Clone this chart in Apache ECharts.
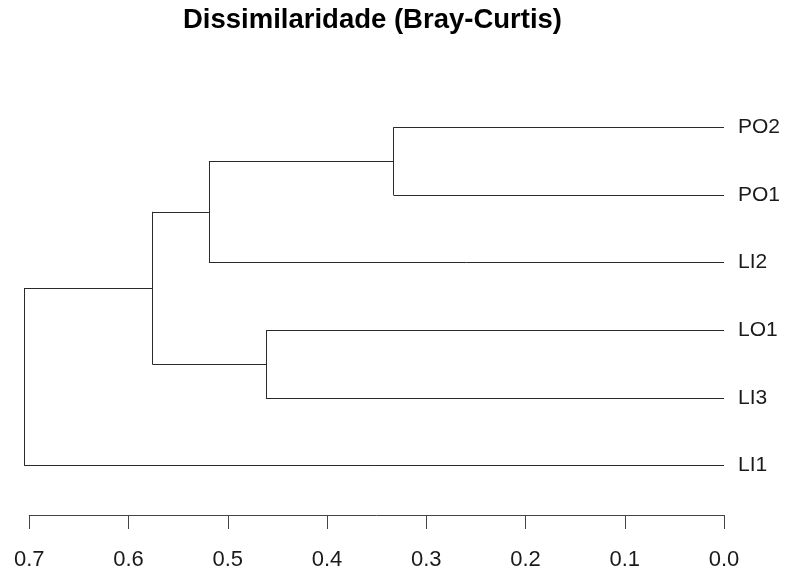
<!DOCTYPE html>
<html>
<head>
<meta charset="utf-8">
<style>
  html, body { margin: 0; padding: 0; background: #fff; }
  #chart { width: 785px; height: 574px; }
</style>
<script src="https://cdn.jsdelivr.net/npm/echarts@6/dist/echarts.min.js"></script>
</head>
<body>
<div id="chart"></div>
<script>
// leaves from top to bottom, as drawn
const leaves = ['PO2', 'PO1', 'LI2', 'LO1', 'LI3', 'LI1']
// R-style merge table: negative = leaf (1-based index in leaves), positive = earlier merge
const merges = [[-1, -2], [-4, -5], [1, -3], [3, 2], [4, -6]]
const heights = [0.333, 0.4615, 0.519, 0.576, 0.705]
const tickValues = [0, 0.1, 0.2, 0.3, 0.4, 0.5, 0.6, 0.7]

// work out where every node sits, then turn the tree into segments
const nodeY = []
const childPos = (id) => id < 0
  ? { x: 0, y: -id - 1 }
  : { x: heights[id - 1], y: nodeY[id - 1] }

const segments = []
merges.forEach(([a, b], i) => {
  const h = heights[i]
  const pa = childPos(a)
  const pb = childPos(b)
  nodeY.push((pa.y + pb.y) / 2)
  segments.push({ coords: [[pa.x, pa.y], [h, pa.y]] })
  segments.push({ coords: [[pb.x, pb.y], [h, pb.y]] })
  segments.push({ coords: [[h, pa.y], [h, pb.y]] })
})

const chart = echarts.init(document.getElementById('chart'))

const option = {
  backgroundColor: '#fff',
  animation: false,
  title: {
    text: 'Dissimilaridade (Bray-Curtis)',
    left: 183,
    top: 6,
    padding: 0,
    textStyle: {
      fontFamily: 'Liberation Sans, Arial, sans-serif',
      fontSize: 27.5,
      fontWeight: 'bold',
      color: '#000'
    }
  },
  grid: { left: 29.3, right: 61, top: 93.4, bottom: 74.5, containLabel: false },
  xAxis: {
    type: 'value',
    inverse: true,
    min: 0,
    max: 0.7,
    interval: 0.1,
    offset: 15.5,
    axisLine: { show: true, onZero: false, lineStyle: { color: '#444', width: 1 } },
    axisTick: { show: true, length: 14, lineStyle: { color: '#444', width: 1 } },
    axisLabel: {
      margin: 34,
      fontFamily: 'Liberation Sans, Arial, sans-serif',
      fontSize: 22,
      color: '#1a1a1a',
      formatter: (v) => tickValues.includes(Math.round(v * 10) / 10) ? v.toFixed(1) : ''
    },
    splitLine: { show: false }
  },
  yAxis: [
    {
      type: 'category',
      data: leaves,
      inverse: true,
      position: 'right',
      axisLine: { show: false },
      axisTick: { show: false },
      axisLabel: {
        margin: 14,
        fontFamily: 'Liberation Sans, Arial, sans-serif',
        fontSize: 21,
        color: '#1a1a1a'
      },
      splitLine: { show: false }
    },
    {
      type: 'value',
      show: false,
      inverse: true,
      min: -0.5,
      max: leaves.length - 0.5,
      splitLine: { show: false }
    }
  ],
  series: [{
    type: 'lines',
    coordinateSystem: 'cartesian2d',
    xAxisIndex: 0,
    yAxisIndex: 1,
    clip: false,
    silent: true,
    lineStyle: { color: '#2a2a2a', width: 1, opacity: 1 },
    data: segments
  }]
}

chart.setOption(option)
</script>
</body>
</html>
